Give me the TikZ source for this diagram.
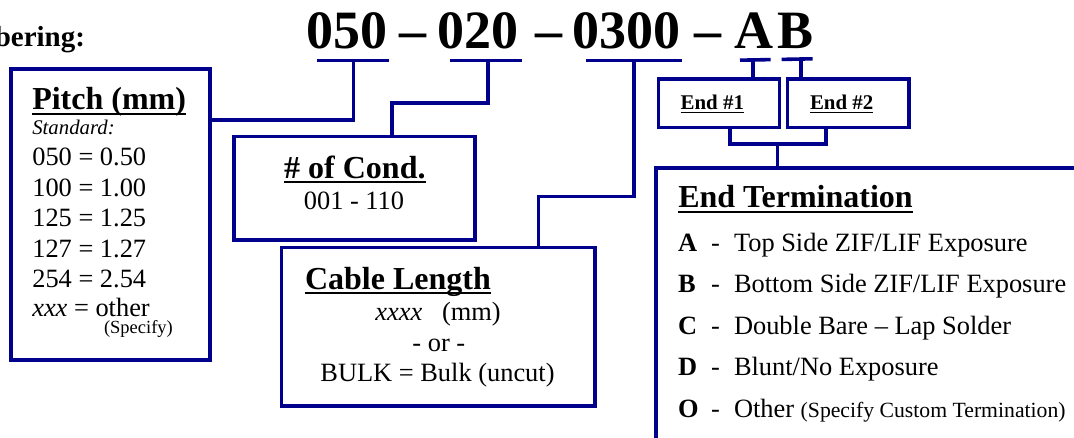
\documentclass[tikz,border=0pt]{standalone}
\usepackage{fontspec}
\setmainfont{Liberation Serif}
\newcommand\myul[1]{\setbox0=\hbox{#1}\rlap{\rule[-0.16em]{\wd0}{0.075em}}\box0}
\newcommand\fsz[1]{\fontsize{#1}{#1}\selectfont}
\definecolor{navyline}{RGB}{0,0,140}
\begin{document}
\begin{tikzpicture}[x=1pt,y=-1pt,
  box/.style={draw=navyline, line width=3.6pt, inner sep=0pt},
  conn/.style={draw=navyline, line width=3.6pt},
  txt/.style={inner sep=0pt, outer sep=0pt, text=black},
  titletxt/.style={txt, anchor=base, font=\fsz{54}\bfseries},
  headtxt/.style={txt, font=\fsz{32}\bfseries},
  bodytxt/.style={txt, font=\fsz{26.4}},
  endtxt/.style={txt, anchor=base, font=\fsz{20.9}\bfseries}]
\useasboundingbox (0,0) rectangle (1074,438);

% heading fragment
\node[txt, anchor=base east, font=\fsz{29}\bfseries] (numbering) at (85,47) {bering:};

% part number
\node[titletxt] (t050) at (347,49) {050};
\node[titletxt] (d1) at (413,49) {–};
\node[titletxt] (t020) at (477.5,49) {020};
\node[titletxt] (d2) at (549,49) {–};
\node[titletxt] (t0300) at (626.7,49) {0300};
\node[titletxt] (d3) at (708,49) {–};
\node[titletxt] (tA) at (753.5,49) {A};
\node[titletxt] (tB) at (796,49) {B};

% boxes
\node[box, minimum width=199pt, minimum height=291pt] (pitch) at (110.5,214.5) {};
\node[box, minimum width=241pt, minimum height=103.3pt] (cond) at (354.5,188.3) {};
\node[box, minimum width=313.3pt, minimum height=158.7pt] (cable) at (438.3,326.7) {};
\node[box, minimum width=121pt, minimum height=48.7pt] (end1) at (718.8,103.3) {};
\node[box, minimum width=121.3pt, minimum height=48.7pt] (end2) at (848.3,103.3) {};
\coordinate (termtr) at (1076,168.3);
\coordinate (termtl) at (656,168.3);
\coordinate (termbl) at (656,440);
\draw[conn] (termtr) -- (termtl) -- (termbl);

% under-bars
\coordinate (b050l) at (316.7,60.7); \coordinate (b050r) at (389.3,60.7); \coordinate (b050) at (353.3,60.7);
\coordinate (b020l) at (450,60.7); \coordinate (b020r) at (521.7,60.7); \coordinate (b020) at (487.7,60.7);
\coordinate (b0300l) at (586,60.7); \coordinate (b0300r) at (681.7,60.7); \coordinate (b0300) at (634,60.7);
\coordinate (bAl) at (740,60.2); \coordinate (bAr) at (770.7,59.6); \coordinate (bA) at (752.7,60);
\coordinate (bBl) at (781.7,59.4); \coordinate (bBr) at (812.7,58.8); \coordinate (bB) at (800.7,59);
\draw[conn] (b050l) -- (b050r);
\draw[conn] (b020l) -- (b020r);
\draw[conn] (b0300l) -- (b0300r);
\draw[conn] (bAl) -- (bAr);
\draw[conn] (bBl) -- (bBr);

% connectors
\coordinate (j050) at (353.3,120);
\draw[conn] (b050) -- (j050) -- (pitch.east |- j050);
\coordinate (j020a) at (487.7,103);
\coordinate (j020b) at (391.7,103);
\draw[conn] (b020) -- (j020a) -- (j020b) -- (j020b |- cond.north);
\coordinate (j0300a) at (634,196.7);
\coordinate (j0300b) at (538.3,196.7);
\draw[conn] (b0300) -- (j0300a) -- (j0300b) -- (j0300b |- cable.north);
\draw[conn] (bA) -- (bA |- end1.north);
\draw[conn] (bB) -- (bB |- end2.north);
\coordinate (ebl) at (730,144.3);
\coordinate (ebr) at (825.7,144.3);
\coordinate (ebm) at (777.3,144.3);
\draw[conn] (ebl |- end1.south) -- (ebl) -- (ebr) -- (ebr |- end2.south);
\draw[conn] (ebm) -- (ebm |- termtl);

% pitch box text
\node[headtxt, anchor=base west] (pitchhead) at (32.3,110) {\myul{Pitch (mm)}};
\node[txt, anchor=base west, font=\fsz{20.8}\itshape] (std) at (32.3,135) {Standard:};
\node[bodytxt, anchor=base west] (p1) at (32.3,166) {050 = 0.50};
\node[bodytxt, anchor=base west] (p2) at (32.3,196.3) {100 = 1.00};
\node[bodytxt, anchor=base west] (p3) at (32.3,226.7) {125 = 1.25};
\node[bodytxt, anchor=base west] (p4) at (32.3,257.3) {127 = 1.27};
\node[bodytxt, anchor=base west] (p5) at (32.3,287.7) {254 = 2.54};
\node[bodytxt, anchor=base west] (p6) at (32.3,317) {\textit{xxx} = other};
\node[txt, anchor=base west, font=\fsz{18.5}] (pspec) at (104,333.8) {(Specify)};

% cond box text
\node[headtxt, anchor=base] (condhead) at (354.9,178.3) {\myul{\# of Cond.}};
\node[bodytxt, anchor=base] (condrange) at (354,210) {001 - 110};

% cable box text
\node[headtxt, anchor=base west] (cablehead) at (305,289.3) {\myul{Cable Length}};
\node[bodytxt, anchor=base] (cab1) at (438,320.7) {\textit{xxxx}\ \ \ (mm)};
\node[bodytxt, anchor=base] (cab2) at (438.8,351.7) {- or -};
\node[bodytxt, anchor=base] (cab3) at (437.5,381.7) {BULK = Bulk (uncut)};

% end boxes text
\node[endtxt] (end1t) at (712.3,110) {\myul{End \#1}};
\node[endtxt] (end2t) at (841.7,110) {\myul{End \#2}};

% end termination text
\node[headtxt, anchor=base west] (termhead) at (678.3,208) {\myul{End Termination}};
\foreach \nm/\ltr/\yy/\desc in {
  ia/A/251.7/{Top Side ZIF/LIF Exposure},
  ib/B/292.7/{Bottom Side ZIF/LIF Exposure},
  ic/C/335/{Double Bare – Lap Solder},
  id/D/376/{Blunt/No Exposure},
  io/O/417.5/{Other {\fsz{21.7}(Specify Custom Termination)}}}{
  \node[bodytxt, anchor=base west, font=\fsz{26.4}\bfseries] (\nm l) at (678,\yy) {\ltr};
  \node[bodytxt, anchor=base west] (\nm h) at (711,\yy) {-};
  \node[bodytxt, anchor=base west] (\nm t) at (734,\yy) {\desc};
}
\end{tikzpicture}
\end{document}
